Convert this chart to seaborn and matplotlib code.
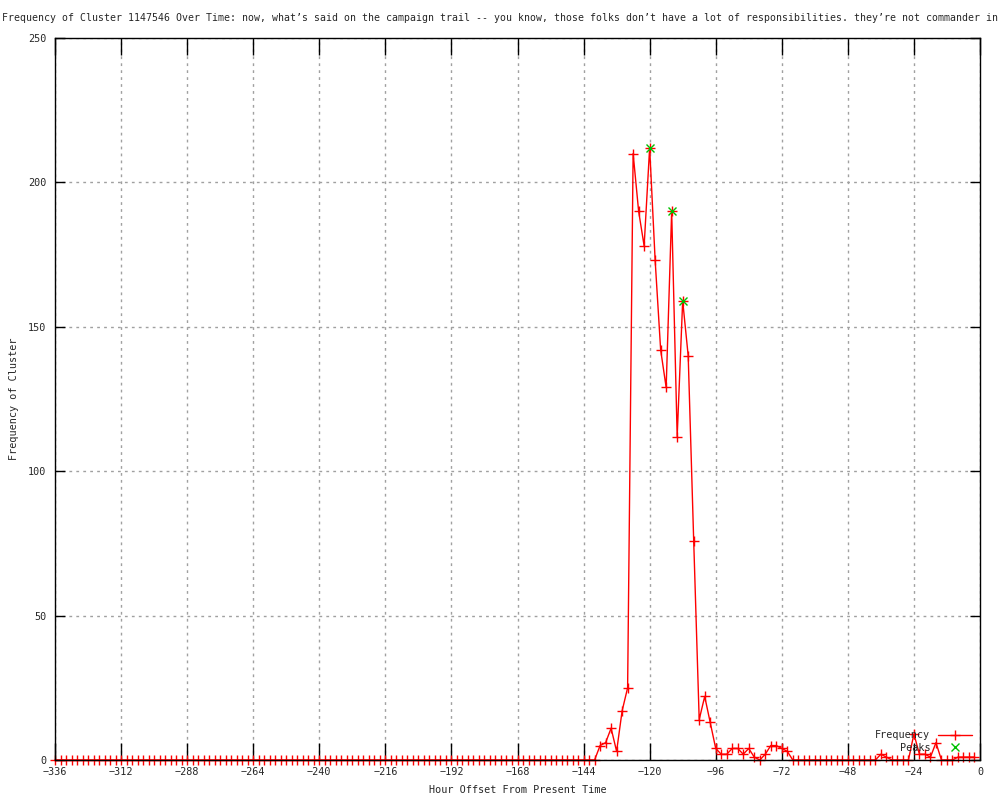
import matplotlib
matplotlib.use('Agg')
import matplotlib.pyplot as plt
import seaborn as sns
import pandas as pd

# hours before present (every 2 hours) and frequency of the cluster
hours = list(range(-336, 0, 2))
freq = ([0] * 99 +
        [5, 6, 11, 3, 17, 25, 210, 190, 178, 212, 173, 142, 129, 190, 112, 159,
         140, 76, 14, 22, 13, 4, 2, 2, 4, 4, 2, 4, 1, 0, 2, 5, 5, 4, 3, 0] +
        [0] * 15 +
        [2, 1] +
        [0] * 4 +
        [9, 2, 2, 1, 6, 0, 0, 0, 1, 1, 1, 1])

peak_hours = [-120, -112, -108]
peak_vals = [212, 190, 159]

x_ticks = list(range(-336, 1, 24))
y_ticks = [0, 50, 100, 150, 200, 250]

title = ("Frequency of Cluster 1147546 Over Time: now, what\u2019s said on the campaign trail "
         "-- you know, those folks don\u2019t have a lot of responsibilities. "
         "they\u2019re not commander in")

sns.set_style("white")
plt.rcParams['font.family'] = ['DejaVu Sans Mono', 'DejaVu Sans']
fs = 7.3

df = pd.DataFrame({'hour': hours, 'freq': freq})
df_peaks = pd.DataFrame({'hour': peak_hours, 'freq': peak_vals})

fig = plt.figure(figsize=(10, 8), dpi=100)
ax = fig.add_axes([0.055, 0.05, 0.925, 0.9025])

sns.lineplot(data=df, x='hour', y='freq', ax=ax, color='#ff0000', linewidth=1,
             marker='+', markersize=6.5, markeredgewidth=1, markeredgecolor='#ff0000',
             label='Frequency', clip_on=False, zorder=3)
sns.lineplot(data=df_peaks, x='hour', y='freq', ax=ax, color='#00c000', linestyle='',
             marker='x', markersize=5.5, markeredgewidth=1, markeredgecolor='#00c000',
             label='Peaks', clip_on=False, zorder=4)

ax.set_xlim(-336, 0)
ax.set_ylim(0, 250)
ax.set_xticks(x_ticks)
ax.set_yticks(y_ticks)
ax.tick_params(axis='x', direction='in', length=12, width=1, color='black',
               labelsize=fs, pad=5, top=True, bottom=True)
ax.tick_params(axis='y', direction='in', length=7, width=1, color='black',
               labelsize=fs, pad=6, left=True, right=True)
ax.grid(True, color='#a0a0a0', linestyle=(0, (2, 3)), linewidth=1)
for s in ax.spines.values():
    s.set_color('black')
    s.set_linewidth(1)
    s.set_zorder(5)

ax.set_xlabel('Hour Offset From Present Time', fontsize=fs, labelpad=6)
ax.set_ylabel('Frequency of Cluster', fontsize=fs, labelpad=7)
fig.text(0.5, 0.977, title, ha='center', va='center', fontsize=7.1)

ax.legend(loc='lower right', bbox_to_anchor=(0.972, 1 - 753 / 800),
          bbox_transform=fig.transFigure, frameon=False, markerfirst=False,
          fontsize=fs, labelspacing=0.25, handlelength=3.4, handletextpad=0.7,
          borderpad=0, borderaxespad=0)

fig.savefig('out.png', dpi=100)
